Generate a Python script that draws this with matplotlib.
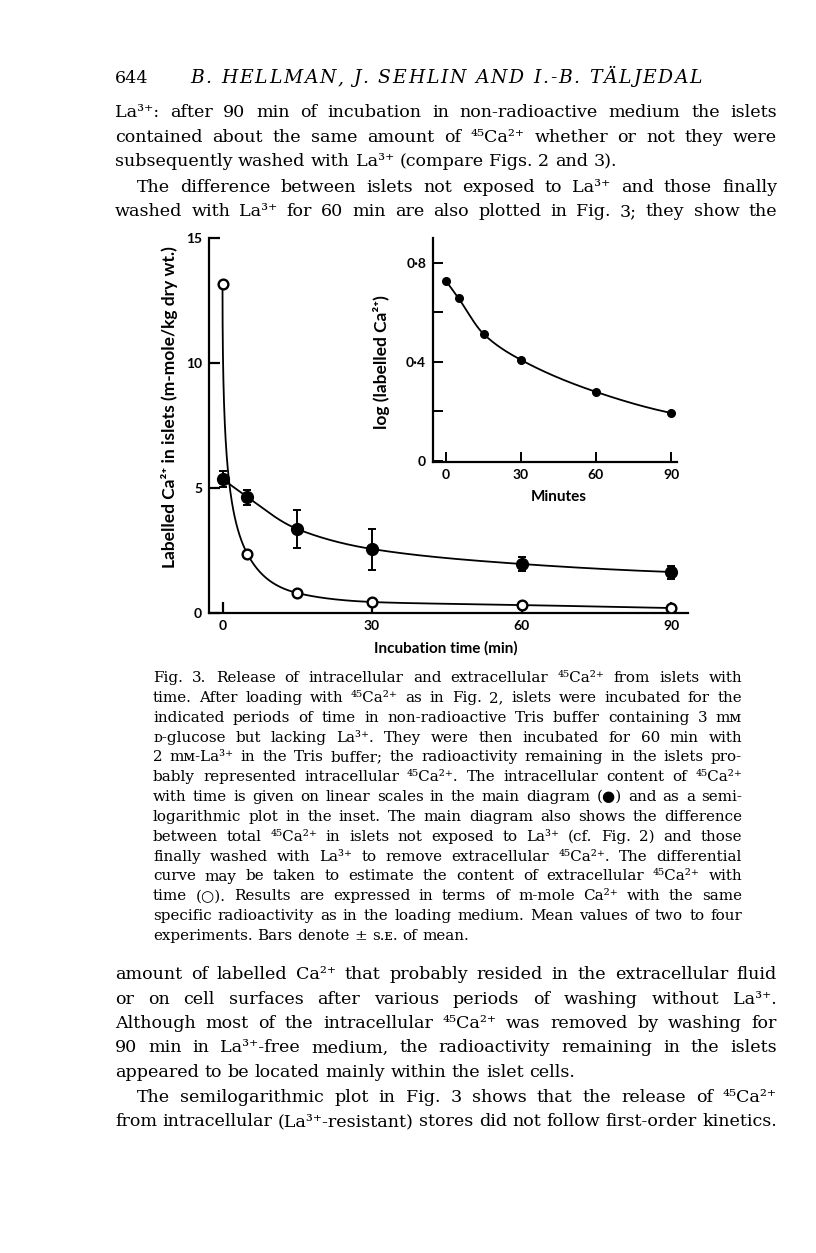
import matplotlib
matplotlib.use("Agg")
import matplotlib.pyplot as plt
import numpy as np

W, H = 816, 1253

# ---- data ----
t_min = [0, 5, 15, 30, 60, 90]
intra = [5.36, 4.64, 3.36, 2.56, 1.96, 1.64]        # filled circles
intra_se = [0.32, 0.30, 0.75, 0.82, 0.27, 0.26]
extra = [13.16, 2.36, 0.80, 0.44, 0.32, 0.20]       # open circles
log_intra = [0.727, 0.657, 0.513, 0.408, 0.279, 0.194]  # inset

main_yticks = [0, 5, 10, 15]
main_xticks = [0, 30, 60, 90]
inset_yticks = [0, 0.2, 0.4, 0.6, 0.8]
inset_ylabels = ["0", "", "0·4", "", "0·8"]

header = "B. HELLMAN, J. SEHLIN AND I.-B. TÄLJEDAL"
para1 = [
    "La³⁺: after 90 min of incubation in non-radioactive medium the islets",
    "contained about the same amount of ⁴⁵Ca²⁺ whether or not they were",
    "subsequently washed with La³⁺ (compare Figs. 2 and 3).",
]
para2 = [
    "The difference between islets not exposed to La³⁺ and those finally",
    "washed with La³⁺ for 60 min are also plotted in Fig. 3; they show the",
]
caption = [
    "Fig. 3. Release of intracellular and extracellular ⁴⁵Ca²⁺ from islets with",
    "time. After loading with ⁴⁵Ca²⁺ as in Fig. 2, islets were incubated for the",
    "indicated periods of time in non-radioactive Tris buffer containing 3 mᴍ",
    "ᴅ-glucose but lacking La³⁺. They were then incubated for 60 min with",
    "2 mᴍ-La³⁺ in the Tris buffer; the radioactivity remaining in the islets pro-",
    "bably represented intracellular ⁴⁵Ca²⁺. The intracellular content of ⁴⁵Ca²⁺",
    "with time is given on linear scales in the main diagram (●) and as a semi-",
    "logarithmic plot in the inset. The main diagram also shows the difference",
    "between total ⁴⁵Ca²⁺ in islets not exposed to La³⁺ (cf. Fig. 2) and those",
    "finally washed with La³⁺ to remove extracellular ⁴⁵Ca²⁺. The differential",
    "curve may be taken to estimate the content of extracellular ⁴⁵Ca²⁺ with",
    "time (○). Results are expressed in terms of m-mole Ca²⁺ with the same",
    "specific radioactivity as in the loading medium. Mean values of two to four",
    "experiments. Bars denote ± s.ᴇ. of mean.",
]
para3 = [
    "amount of labelled Ca²⁺ that probably resided in the extracellular fluid",
    "or on cell surfaces after various periods of washing without La³⁺.",
    "Although most of the intracellular ⁴⁵Ca²⁺ was removed by washing for",
    "90 min in La³⁺-free medium, the radioactivity remaining in the islets",
    "appeared to be located mainly within the islet cells.",
]
para4 = [
    "The semilogarithmic plot in Fig. 3 shows that the release of ⁴⁵Ca²⁺",
    "from intracellular (La³⁺-resistant) stores did not follow first-order kinetics.",
]

SERIF = ["DejaVu Serif", "DejaVu Sans"]
SANS = ["Lato", "DejaVu Sans"]


def pchip(x, y, xs):
    x = np.asarray(x, float)
    y = np.asarray(y, float)
    h = np.diff(x)
    d = np.diff(y) / h
    n = len(x)
    m = np.zeros(n)
    for k in range(1, n - 1):
        if d[k - 1] * d[k] > 0:
            w1 = 2 * h[k] + h[k - 1]
            w2 = h[k] + 2 * h[k - 1]
            m[k] = (w1 + w2) / (w1 / d[k - 1] + w2 / d[k])

    def end(h0, h1, d0, d1):
        e = ((2 * h0 + h1) * d0 - h0 * d1) / (h0 + h1)
        if np.sign(e) != np.sign(d0):
            e = 0.0
        elif np.sign(d0) != np.sign(d1) and abs(e) > abs(3 * d0):
            e = 3 * d0
        return e

    m[0] = end(h[0], h[1], d[0], d[1])
    m[-1] = end(h[-1], h[-2], d[-1], d[-2])
    idx = np.clip(np.searchsorted(x, xs) - 1, 0, n - 2)
    s = (xs - x[idx]) / h[idx]
    h00 = 2 * s**3 - 3 * s**2 + 1
    h10 = s**3 - 2 * s**2 + s
    h01 = -2 * s**3 + 3 * s**2
    h11 = s**3 - s**2
    return (h00 * y[idx] + h10 * h[idx] * m[idx]
            + h01 * y[idx + 1] + h11 * h[idx] * m[idx + 1])


def box(l, t, r, b):
    return [l / W, 1 - b / H, (r - l) / W, (b - t) / H]


fig = plt.figure(figsize=(W / 100, H / 100), dpi=100)
fig.patch.set_facecolor("white")
renderer = fig.canvas.get_renderer()

# ---- main diagram ----
ax = fig.add_axes(box(209, 238, 687.5, 613))
ax.set_xlim(-2.71, 93.3)
ax.set_ylim(0, 15)
for s in ["top", "right"]:
    ax.spines[s].set_visible(False)
for s in ["left", "bottom"]:
    ax.spines[s].set_linewidth(1.6)

tt = np.linspace(0, 90, 500)
ax.plot(tt, np.exp(pchip(t_min, np.log(intra), tt)), color="black", lw=1.3)
uu = np.linspace(0, np.sqrt(90), 500)
ax.plot(uu**2, np.exp(pchip(np.sqrt(t_min), np.log(extra), uu)), color="black", lw=1.3)
ax.errorbar(t_min, intra, yerr=intra_se, fmt="o", color="black", ms=8.5,
            elinewidth=1.4, capsize=3, capthick=1.4, zorder=4)
ax.plot(t_min, extra, "o", mfc="white", mec="black", mew=1.7, ms=7, zorder=5)

ax.set_yticks(main_yticks)
ax.set_xticks(main_xticks)
ax.tick_params(direction="in", length=8, width=1.6, pad=5, labelsize=10)
for lab in ax.get_xticklabels() + ax.get_yticklabels():
    lab.set_family(SANS)
    lab.set_fontweight("bold")

fig.text(170 / W, 1 - 407 / H, "Labelled Ca²⁺ in islets (m-mole/kg dry wt.)",
         rotation=90, ha="center", va="center", fontsize=12.5, fontweight="bold",
         family=SANS)
fig.text(446 / W, 1 - 648 / H, "Incubation time (min)", ha="center", va="center",
         fontsize=11, fontweight="bold", family=SANS)

# ---- inset ----
ai = fig.add_axes(box(433, 238, 677, 462))
ai.set_facecolor("none")
ai.set_xlim(-5.2, 92.4)
ai.set_ylim(-0.004, 0.9)
for s in ["top", "right"]:
    ai.spines[s].set_visible(False)
for s in ["left", "bottom"]:
    ai.spines[s].set_linewidth(1.6)
ai.plot(tt, pchip(t_min, log_intra, tt), color="black", lw=1.3)
ai.plot(t_min, log_intra, "o", color="black", ms=5.5, zorder=4)
ai.set_xticks(main_xticks)
ai.set_yticks(inset_yticks)
ai.set_yticklabels(inset_ylabels)
ai.tick_params(direction="in", length=7, width=1.4, pad=5, labelsize=10)
for lab in ai.get_xticklabels() + ai.get_yticklabels():
    lab.set_family(SANS)
    lab.set_fontweight("bold")
fig.text(382 / W, 1 - 362 / H, "log (labelled Ca²⁺)", rotation=90, ha="center",
         va="center", fontsize=12.5, fontweight="bold", family=SANS)
fig.text(559 / W, 1 - 497 / H, "Minutes", ha="center", va="center",
         fontsize=11, fontweight="bold", family=SANS)


# ---- page text ----
def put_line(s, x0, x1, yb, size, justify=True, style="normal"):
    words = s.split(" ")
    arts = [fig.text(0, 1 - yb / H, w, fontsize=size, family=SERIF, style=style,
                     ha="left", va="baseline") for w in words]
    widths = [a.get_window_extent(renderer).width for a in arts]
    if justify and len(words) > 1:
        gap = (x1 - x0 - sum(widths)) / (len(words) - 1)
    else:
        gap = size * 100 / 72 * 0.32
    x = x0
    for a, w in zip(arts, widths):
        a.set_x(x / W)
        x += w + gap


def put_block(lines, x0, x1, yb0, step, size, indent=0, last_left=True):
    for i, s in enumerate(lines):
        left = x0 + (indent if i == 0 else 0)
        just = not (last_left and i == len(lines) - 1)
        put_line(s, left, x1, yb0 + i * step, size, justify=just)


def put_spaced(s, x0, x1, yb, size, style="italic"):
    arts, widths = [], []
    for ch in s:
        a = fig.text(0, 1 - yb / H, ch, fontsize=size, family=SERIF, style=style,
                     ha="left", va="baseline")
        w = a.get_window_extent(renderer).width if ch != " " else 6.0
        arts.append(a)
        widths.append(w)
    gap = (x1 - x0 - sum(widths)) / (len(s) - 1)
    x = x0
    for a, w in zip(arts, widths):
        a.set_x(x / W)
        x += w + gap


BODY = 12.6
CAP = 10.9
fig.text(115 / W, 1 - 83 / H, "644", fontsize=BODY, family=SERIF, ha="left", va="baseline")
put_spaced(header, 190, 702, 83, 13.5)

put_block(para1, 115, 777, 117, 24.7, BODY)
put_block(para2, 115, 777, 191.5, 24.7, BODY, indent=22, last_left=False)
put_block(caption, 153, 742, 682, 19.85, CAP)
put_block(para3, 115, 777, 979, 24.5, BODY)
put_block(para4, 115, 777, 1102, 24.5, BODY, indent=22, last_left=False)

fig.savefig("out.png", dpi=100)
